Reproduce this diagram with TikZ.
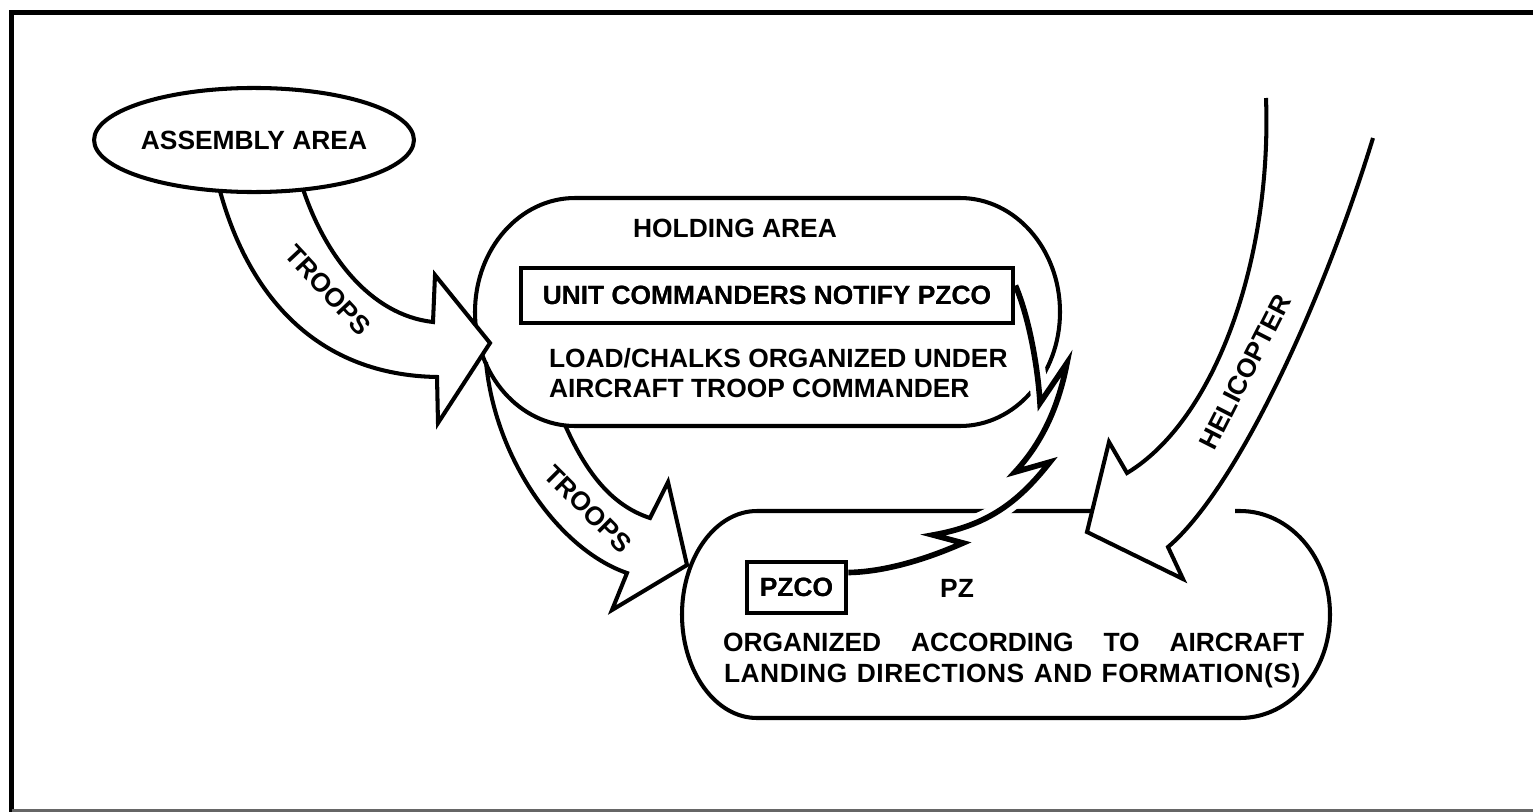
\documentclass[tikz,border=0pt]{standalone}
\usepackage{fontspec}
\setmainfont{Liberation Sans}
\usetikzlibrary{shapes.geometric,calc}
\begin{document}
\begin{tikzpicture}[x=0.01cm,y=-0.01cm,line width=1.15pt,line join=miter,
  lbl/.style={font=\fontsize{7.5pt}{9pt}\selectfont\bfseries,inner sep=0pt},
  boxed/.style={lbl,draw,line width=1.3pt},
  blockarrow/.style={draw,fill=white,line width=1.15pt},
  bolt/.style={draw,line width=1.6pt,preaction={draw=white,line width=5pt}}]
\useasboundingbox (0,0) rectangle (1533,812);
% frame
\draw[line width=1.5pt] (11.5,812) -- (11.5,12.5) -- (1533,12.5);
\draw[line width=0.6pt,black!60] (11.5,810.5) -- (1533,810.5);

% PZ outline (gap where helicopter arrow enters)
\draw (1235,511) -- (1240,511) .. controls (1289.7,511) and (1330,557.3) .. (1330,614.5)
  .. controls (1330,671.7) and (1289.7,718) .. (1240,718) -- (757,718)
  .. controls (715.6,718) and (682,671.7) .. (682,614.5)
  .. controls (682,557.3) and (715.6,511) .. (757,511) -- (1092,511);

% troops arrow 2 (holding -> PZ)
\draw[blockarrow] (565,425) .. controls (585,470) and (610,505) .. (650,518) -- (668,482) -- (687,565)
  -- (612,610) -- (627,573) .. controls (560,550) and (495,460) .. (486,362);

% holding area outline
\draw (575,198) -- (960,198) .. controls (1015.2,198) and (1060,249) .. (1060,312)
  .. controls (1060,375) and (1015.2,426) .. (960,426) -- (575,426)
  .. controls (519.8,426) and (475,375) .. (475,312)
  .. controls (475,249) and (519.8,198) .. (575,198) -- cycle;

% troops arrow 1 (assembly -> holding)
\draw[blockarrow] (303,189) .. controls (325,255) and (370,315) .. (433,322) -- (435,275) -- (490,343)
  -- (438,423) -- (437,377) .. controls (320,375) and (250,300) .. (220,191);

% helicopter arrow
\draw[blockarrow] (1266,98) .. controls (1272,260) and (1215,420) .. (1127,473) -- (1109,442) -- (1087,532)
  -- (1183,579) -- (1168,547) .. controls (1235,490) and (1320,310) .. (1373,138);

% nodes
\node[draw,ellipse,minimum width=3.12cm,minimum height=1.04cm,inner sep=0pt,line width=1.15pt,
  font=\fontsize{7.5pt}{9pt}\selectfont\bfseries] (asm) at (254,140) {ASSEMBLY AREA};
\node[lbl,anchor=base] (hold) at (735,237.5) {HOLDING AREA};
\node[boxed,minimum width=4.92cm,minimum height=0.55cm] (notify) at (767,295.5) {UNIT COMMANDERS NOTIFY PZCO};
\node[lbl,anchor=base west] (load1) at (547,367.5) {LOAD/CHALKS ORGANIZED UNDER};
\node[lbl,anchor=base west] (load2) at (547,397.5) {AIRCRAFT TROOP COMMANDER};
\node[boxed,minimum width=0.99cm,minimum height=0.51cm] (pzco) at (796.5,587.5) {PZCO};
\node[lbl,anchor=base] (pz) at (957,597.5) {PZ};
\node[lbl,anchor=base west] (org1) at (721,651.5) {\makebox[5.81cm][s]{ORGANIZED ACCORDING TO AIRCRAFT}};
\node[lbl,anchor=base west] (org2) at (722,682.5) {\addfontfeature{LetterSpace=2}\makebox[5.76cm][s]{LANDING DIRECTIONS AND FORMATION(S)}};

% notification bolt
\draw[bolt] ($(notify.east)+(0,-10)$) .. controls (1030,320) and (1038,370) .. (1040,403) -- (1067,363)
  .. controls (1058,410) and (1040,445) .. (1015,472) -- (1050,462)
  .. controls (1020,500) and (990,525) .. (933,535) -- (963,543)
  .. controls (920,562) and (880,572) .. ($(pzco.east)+(0,-15)$);
% redraw boxes over bolt underlay
\node[boxed,minimum width=4.92cm,minimum height=0.55cm] at (notify) {UNIT COMMANDERS NOTIFY PZCO};
\node[boxed,minimum width=0.99cm,minimum height=0.51cm] at (pzco) {PZCO};

% arrow labels
\node[lbl,rotate=-47] (t1) at (328,290) {TROOPS};
\node[lbl,rotate=-45] (t2) at (588,509) {TROOPS};
\node[lbl,rotate=63] (heli) at (1245,372) {HELICOPTER};
\end{tikzpicture}
\end{document}
